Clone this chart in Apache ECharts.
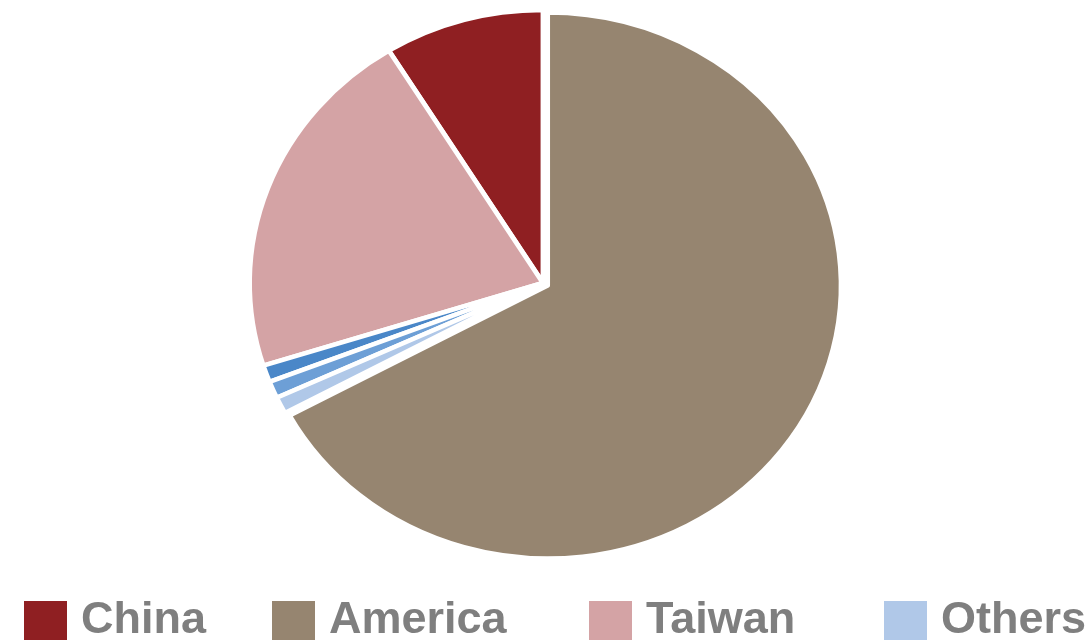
<!DOCTYPE html>
<html>
<head>
<meta charset="utf-8">
<script src="https://cdn.jsdelivr.net/npm/echarts@6/dist/echarts.min.js"></script>
<style>
  html, body { margin: 0; padding: 0; background: #ffffff; }
  #chart { width: 1092px; height: 641px; }
</style>
</head>
<body>
<div id="chart"></div>
<script>
// Market share by region (percent), listed counter-clockwise from 12 o'clock
const regions = ['China', 'Taiwan', 'Other 1', 'Other 2', 'Others', 'America'];
const shares = [8.8, 21.1, 1.0, 1.0, 1.0, 67.1];
const sliceColors = ['#8f1f22', '#d4a3a5', '#4a87c8', '#6d9fd6', '#b0c8e8', '#968570'];

// Legend entries in display order
const legendNames = ['China', 'America', 'Taiwan', 'Others'];
const legendLefts = [22, 270, 587, 882];

const PIE_CX = 543, PIE_CY = 283, PIE_STRETCH = 1.075;

const chart = echarts.init(document.getElementById('chart'), null, { renderer: 'canvas' });

const legendText = {
  fontFamily: 'Liberation Sans, Arial, sans-serif',
  fontWeight: 'bold',
  fontSize: 45,
  color: '#7f7f7f',
  lineHeight: 41,
  padding: [0, 0, 0, 8]
};

const option = {
  animation: false,
  backgroundColor: '#ffffff',
  legend: legendNames.map((name, i) => ({
    data: [name],
    left: legendLefts[i],
    top: 598,
    padding: 0,
    icon: 'rect',
    itemWidth: 45,
    itemHeight: 41,
    selectedMode: false,
    textStyle: legendText
  })),
  series: [{
    type: 'pie',
    center: [PIE_CX, PIE_CY],
    radius: 273,
    startAngle: 90,
    clockwise: false,
    silent: true,
    selectedMode: 'single',
    selectedOffset: 5,
    label: { show: false },
    labelLine: { show: false },
    emphasis: { disabled: true },
    itemStyle: { borderColor: '#ffffff', borderWidth: 4.5 },
    data: regions.map((name, i) => ({
      name: name,
      value: shares[i],
      selected: name === 'America',
      itemStyle: { color: sliceColors[i] },
      select: { itemStyle: { color: sliceColors[i], borderColor: '#ffffff', borderWidth: 4.5 } }
    }))
  }]
};

chart.setOption(option);

// Widen the pie horizontally into a slight ellipse around its centre
function stretchPie() {
  const seriesModel = chart.getModel().getSeriesByIndex(0);
  const view = chart.getViewOfSeriesModel(seriesModel);
  if (!view) return;
  const g = view.group;
  g.originX = PIE_CX;
  g.originY = PIE_CY;
  g.scaleX = PIE_STRETCH;
  g.traverse(el => { if (el.markRedraw) el.markRedraw(); });
  g.markRedraw();
  chart.getZr().refreshImmediately();
}
stretchPie();
</script>
</body>
</html>
